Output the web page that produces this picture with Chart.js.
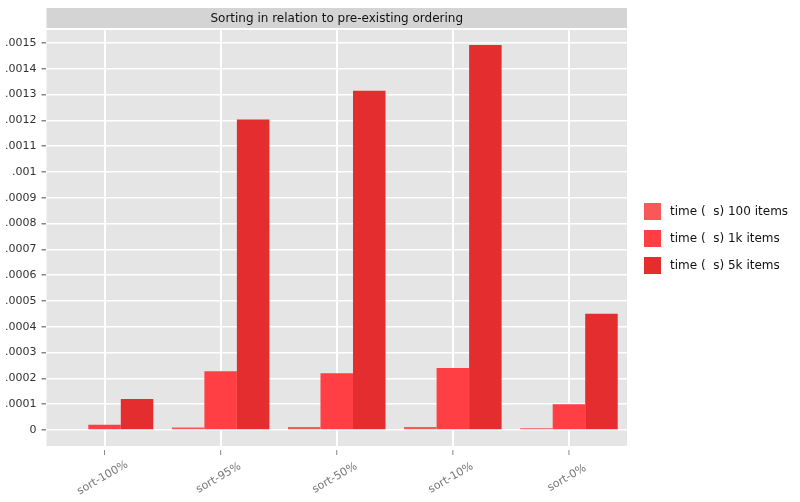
<!DOCTYPE html>
<html><head><meta charset="utf-8">
<script src="https://cdn.jsdelivr.net/npm/chart.js@4"></script>
<style>body{margin:0;background:#fff}#w{width:800px;height:502px}</style>
</head><body><div id="w"><canvas id="c"></canvas></div>
<script>
const categories = ['sort-100%','sort-95%','sort-50%','sort-10%','sort-0%'];
const series100 = [0.000003,0.000010,0.000012,0.000012,0.000007];
const series1k = [0.000020,0.000228,0.000220,0.000240,0.000100];
const series5k = [0.000120,0.001203,0.001315,0.001492,0.000450];
const seriesNames = ['time (  s) 100 items','time (  s) 1k items','time (  s) 5k items'];
const colors = ['#f85858','#ff3f43','#e42d2f'];
const FONT = 'DejaVu Sans';

const deco = {
  id:'deco',
  beforeDraw(ch){
    const {ctx, chartArea:a} = ch;
    ctx.save();
    ctx.fillStyle='#e5e5e5';
    ctx.fillRect(a.left,a.top,a.right-a.left,a.bottom-a.top);
    ctx.fillStyle='#d4d4d4';
    ctx.fillRect(a.left,8,a.right-a.left,a.top-8-2);
    ctx.fillStyle='#111';ctx.font='12px '+FONT;ctx.textAlign='center';ctx.textBaseline='middle';
    ctx.fillText('Sorting in relation to pre-existing ordering',(a.left+a.right)/2,18.5);
    ctx.restore();
  },
  afterDraw(ch){
    const {ctx, chartArea:a} = ch;
    const xs = ch.scales.x;
    ctx.save();
    ctx.font='12px '+FONT;ctx.textBaseline='middle';
    ch.data.datasets.forEach((d,i)=>{
      const y=211+i*27;
      ctx.fillStyle=d.backgroundColor;ctx.fillRect(644,y-8,17,17);
      ctx.fillStyle='#111';ctx.textAlign='left';ctx.fillText(d.label,670,y+1);
    });
    ch.data.labels.forEach((l,i)=>{
      const x=xs.getPixelForTick(i);
      ctx.strokeStyle='#888';ctx.lineWidth=1;
      ctx.beginPath();ctx.moveTo(x,a.bottom+4);ctx.lineTo(x,a.bottom+9);ctx.stroke();
      ctx.save();ctx.translate(x-2,a.bottom+32);ctx.rotate(-Math.PI/6);
      ctx.fillStyle='#777';ctx.font='11px '+FONT;ctx.textAlign='center';
      ctx.fillText(l,0,0);ctx.restore();
    });
    ctx.restore();
  }
};

new Chart(document.getElementById('c'),{
  type:'bar',
  data:{labels:categories,datasets:[
    {label:seriesNames[0],data:series100,backgroundColor:colors[0]},
    {label:seriesNames[1],data:series1k,backgroundColor:colors[1]},
    {label:seriesNames[2],data:series5k,backgroundColor:colors[2]}
  ]},
  options:{
    responsive:true,maintainAspectRatio:false,animation:false,
    layout:{padding:{top:30,right:173,left:0,bottom:56}},
    plugins:{legend:{display:false},tooltip:{enabled:false}},
    datasets:{bar:{categoryPercentage:0.84,barPercentage:1,borderWidth:0}},
    scales:{
      x:{grid:{color:'#fff',lineWidth:2,offset:false,drawTicks:false,z:0},
         border:{display:false},
         ticks:{display:false}},
      y:{min:-0.000062,max:0.00155,
         afterBuildTicks(s){s.ticks=[];for(let i=0;i<=15;i++)s.ticks.push({value:i*0.0001});},
         grid:{color:'#fff',lineWidth:1.5,tickColor:'#888',tickLength:5,z:0},
         border:{display:false},
         ticks:{color:'#333',font:{family:FONT,size:11},padding:5,
           callback:v=>v===0?'0':Number(v.toFixed(4)).toString().replace(/^0/,'')}}
    }
  },
  plugins:[deco]
});
</script></body></html>
